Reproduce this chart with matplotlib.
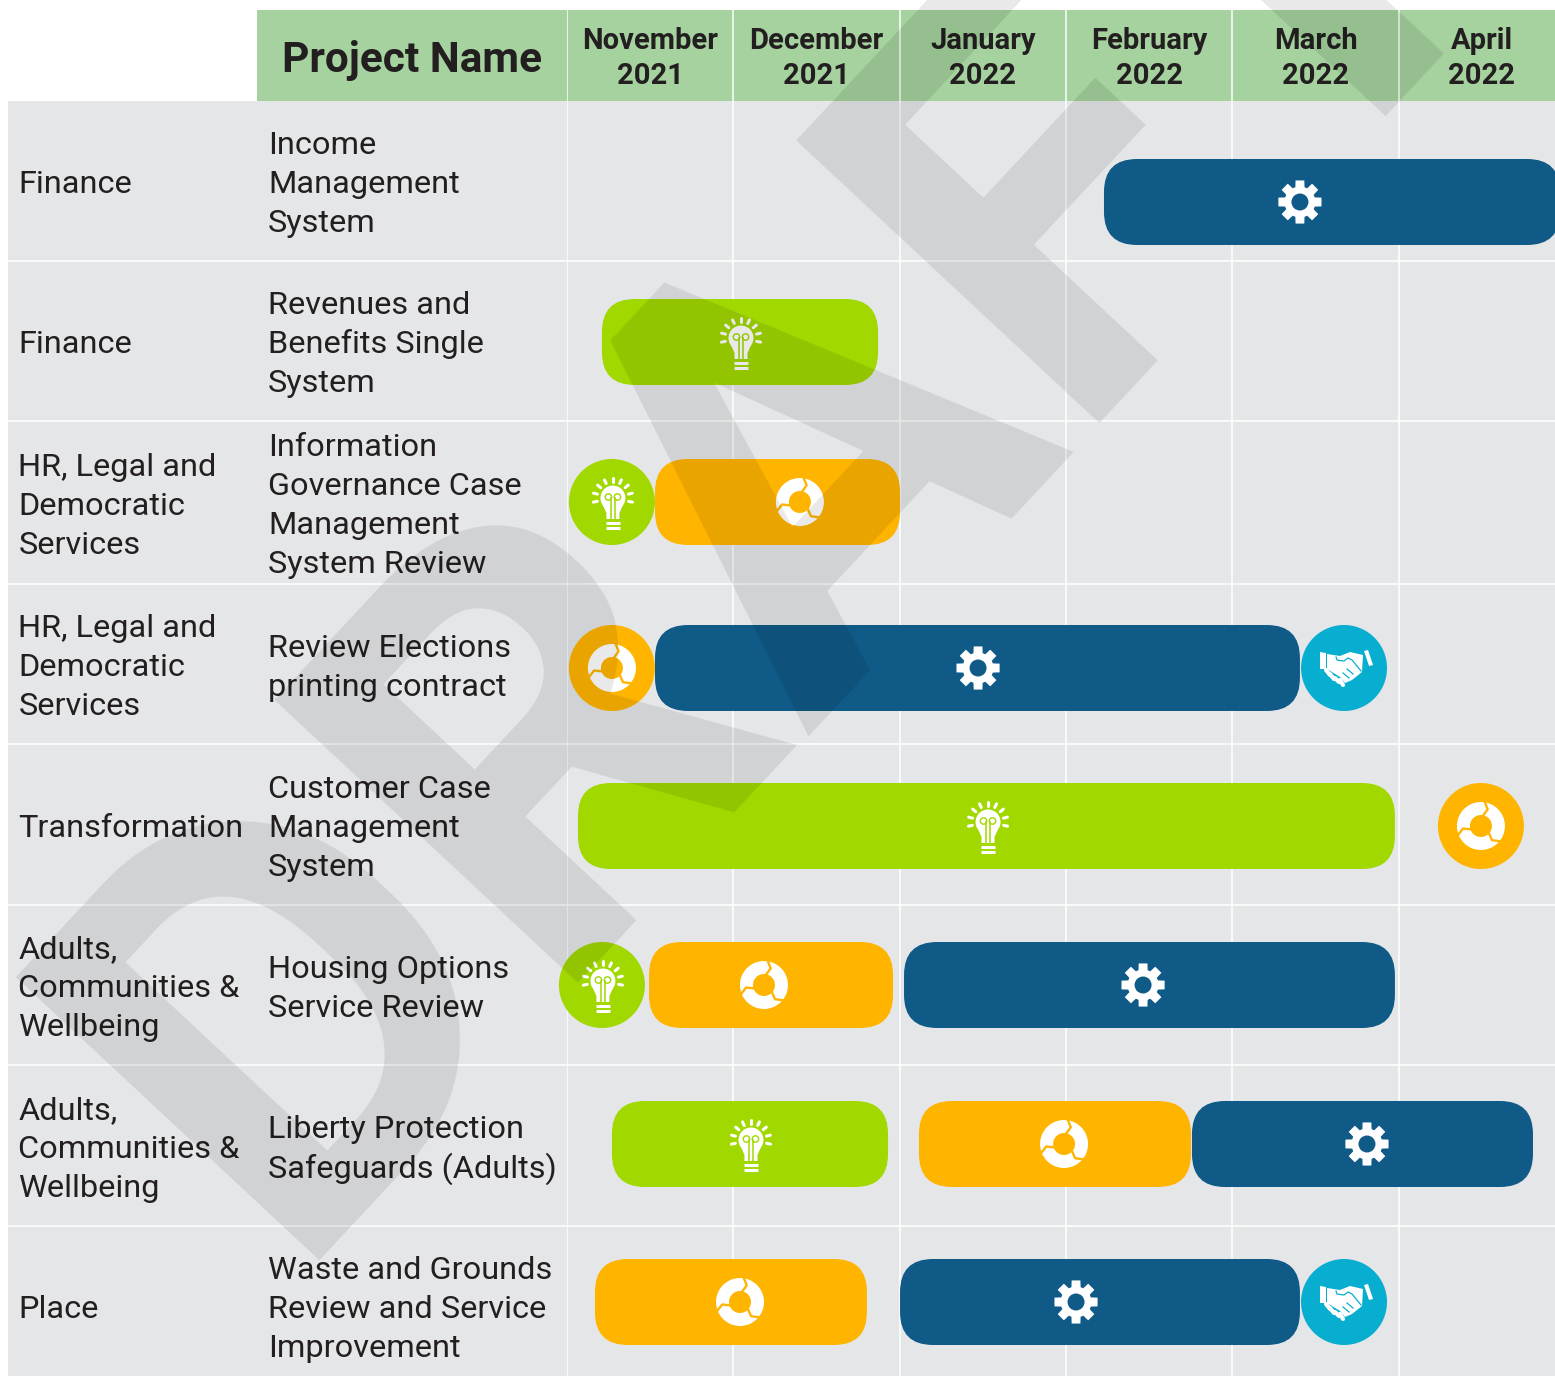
#!/usr/bin/env python3
import numpy as np
import matplotlib
matplotlib.use("Agg")
import matplotlib.pyplot as plt
from matplotlib.patches import Rectangle, FancyBboxPatch, Ellipse, Circle, Polygon, Wedge
from matplotlib.transforms import Affine2D

plt.rcParams["font.family"] = ["Roboto", "DejaVu Sans"]

months = ["November\n2021", "December\n2021", "January\n2022", "February\n2022", "March\n2022", "April\n2022"]
categories = ["Finance", "Finance", "HR, Legal and\nDemocratic\nServices", "HR, Legal and\nDemocratic\nServices",
              "Transformation", "Adults,\nCommunities &\nWellbeing", "Adults,\nCommunities &\nWellbeing", "Place"]
projects = ["Income\nManagement\nSystem", "Revenues and\nBenefits Single\nSystem",
            "Information\nGovernance Case\nManagement\nSystem Review", "Review Elections\nprinting contract",
            "Customer Case\nManagement\nSystem", "Housing Options\nService Review",
            "Liberty Protection\nSafeguards (Adults)", "Waste and Grounds\nReview and Service\nImprovement"]
row_edges = [101, 261, 421, 584, 744, 905, 1065, 1226, 1386]
row_centers = [202, 342, 502, 668, 826, 985, 1144, 1302]

# bars, x values in months from the start of November 2021
bar_rows = [0, 1, 2, 3, 4, 5, 5, 6, 6, 6, 7, 7]
bar_starts = [3.228, 0.21, 0.529, 0.529, 0.066, 0.493, 2.026, 0.27, 2.116, 3.757, 0.168, 2.002]
bar_ends = [5.97, 1.87, 2.002, 4.406, 4.977, 1.96, 4.977, 1.93, 3.751, 5.807, 1.803, 4.406]
bar_icons = [4.406, 1.04, 1.40, 2.471, 2.525, 1.184, 3.463, 1.10, 2.988, 4.809, 1.04, 3.06]
bar_kinds = ["build", "idea", "review", "build", "idea", "review", "build", "idea", "review", "build", "review", "build"]

# single-month milestones
dot_rows = [2, 3, 3, 4, 5, 7]
dot_x = [0.27, 0.27, 4.671, 5.494, 0.21, 4.671]
dot_kinds = ["idea", "review", "deal", "review", "idea", "deal"]

colors = {"idea": "#a0d800", "review": "#ffb400", "build": "#105a88", "deal": "#07aed0"}
BG = "#e5e6e8"
HEADER = "#a5d29e"
INK = "#231f20"
MONTH_PX = 166.35
BAR_H = 86


def draw_gear(ax, tr, bg):
    n = 8
    pts = []
    for i in range(n):
        a = 2 * np.pi * i / n
        for da, r in [(-0.30, 15.5), (-0.2, 22), (0.2, 22), (0.30, 15.5)]:
            pts.append((r * np.cos(a + da), r * np.sin(a + da)))
    ax.add_patch(Polygon(pts, fc="white", ec="none", transform=tr, zorder=6))
    ax.add_patch(Circle((0, 0), 8.5, fc=bg, ec="none", transform=tr, zorder=7))


def draw_bulb(ax, tr, bg):
    neck = [(-10, -3), (-6.5, -11), (-6.5, -17), (6.5, -17), (6.5, -11), (10, -3)]
    ax.add_patch(Circle((1, 4), 12.5, fc="white", ec="none", transform=tr, zorder=6))
    ax.add_patch(Polygon([(x + 1, y) for x, y in neck], fc="white", ec="none", transform=tr, zorder=6))
    for a in np.radians([-12, 14, 40, 65, 90, 115, 140, 166, 192]):
        ax.plot([1 + 16 * np.cos(a), 1 + 20 * np.cos(a)], [4 + 16 * np.sin(a), 4 + 20 * np.sin(a)],
                color="white", lw=2.2, transform=tr, zorder=6, solid_capstyle="round")
    for sign in (-1, 1):
        ax.add_patch(Circle((1 + sign * 4.5, 5), 3.2, fc="none", ec=bg, lw=1.0, transform=tr, zorder=7))
        ax.plot([1 + sign * 2.2, 1 + sign * 2.2], [4, -17], color=bg, lw=1.1, transform=tr, zorder=7)
    for y0 in (-21, -25.5):
        ax.plot([-6, 8], [y0, y0], color="white", lw=2.2, transform=tr, zorder=6, solid_capstyle="butt")


def draw_cycle(ax, tr, bg):
    ax.add_patch(Wedge((0, 0), 24, 0, 360, width=13, fc="white", ec="none", transform=tr, zorder=6))
    for a0 in (68, 188, 308):
        rs = np.array([10, 18, 25])
        ang = np.radians(np.array([a0 + 12, a0, a0 + 14]))
        ax.plot(rs * np.cos(ang), rs * np.sin(ang), color=bg, lw=1.7, transform=tr, zorder=7)


def draw_deal(ax, tr, bg):
    hands = [(-17, 14), (-4, 12), (6, 16), (19, 13), (18, -4), (8, -12), (1, -15), (-4, -9), (-17, -1)]
    ax.add_patch(Polygon(hands, fc="white", ec="none", transform=tr, zorder=6))
    ax.add_patch(Polygon([(-24, 16), (-18, 15), (-18, -1), (-24, -1)], fc="white", ec="none", transform=tr, zorder=6))
    ax.add_patch(Polygon([(20, 17), (24, 18), (29, 3), (25, 2)], fc="white", ec="none", transform=tr, zorder=6))
    for x0, y0, x1, y1 in [(-18, -2, -14, -7), (-14, -6, -10, -11), (-9, -10, -5, -14), (-4, -12, -1, -17)]:
        ax.plot([x0, x1], [y0, y1], color="white", lw=3, transform=tr, zorder=6, solid_capstyle="round")
    ax.plot([-8, -7, 0, 4, 8, 17], [11, 8, 7, 10, 8, -3], color=bg, lw=0.9, transform=tr, zorder=7)
    for x0, y0, x1, y1 in [(3, -1, 9, -6), (-1, -5, 5, -10)]:
        ax.plot([x0, x1], [y0, y1], color=bg, lw=0.9, transform=tr, zorder=7)


icon_funcs = {"build": draw_gear, "idea": draw_bulb, "review": draw_cycle, "deal": draw_deal}


def add_icon(gantt, x, y, kind):
    px = gantt.transData.transform((x, y))
    tr = Affine2D().translate(px[0], px[1])
    icon_funcs[kind](gantt, tr, colors[kind])


def main():
    fig = plt.figure(figsize=(15.55, 13.76), dpi=100)

    # table part, axes in pixels of the picture
    ax = fig.add_axes([0, 0, 1, 1], zorder=1)
    ax.set_xlim(0, 1555)
    ax.set_ylim(1376, 0)
    ax.axis("off")
    ax.add_patch(Rectangle((8, 101), 1547, 1285, fc=BG, ec="none"))
    ax.add_patch(Rectangle((257, 10), 1298, 91, fc=HEADER, ec="none"))
    ax.hlines(row_edges[1:-1], 8, 1555, color="white", lw=1.1, zorder=2)
    ax.text(412, 72, "Project Name", fontsize=30.5, fontweight="bold", color=INK, ha="center", va="baseline", zorder=3)

    for i in range(8):
        mid = (row_edges[i] + row_edges[i + 1]) / 2
        for x0, txt in [(18.5, categories[i]), (268, projects[i])]:
            lines = txt.split("\n")
            for k, line in enumerate(lines):
                y = mid + 12.3 + (k - (len(lines) - 1) / 2) * 39
                ax.text(x0, y, line, fontsize=23.4, color=INK, ha="left", va="baseline", zorder=3)

    # gantt part, x in months, y still in pixels
    gantt = fig.add_axes([567 / 1555, 0, (1555 - 567) / 1555, 1], zorder=2)
    gantt.set_xlim(0, (1555 - 567) / MONTH_PX)
    gantt.set_ylim(1376, 0)
    gantt.axis("off")
    gantt.vlines(range(6), 10, 1376, color="white", lw=1.1, zorder=1)
    for m, label in enumerate(months):
        l1, l2 = label.split("\n")
        gantt.text(m + 0.5, 49, l1, fontsize=21, fontweight="bold", color=INK, ha="center", va="baseline", zorder=3)
        gantt.text(m + 0.5, 83.5, l2, fontsize=21, fontweight="bold", color=INK, ha="center", va="baseline", zorder=3)

    for row, start, end, icon, kind in zip(bar_rows, bar_starts, bar_ends, bar_icons, bar_kinds):
        y = row_centers[row]
        box = FancyBboxPatch((start, y - BAR_H / 2), end - start, BAR_H,
                             boxstyle=f"round,pad=0,rounding_size={33 / MONTH_PX}",
                             mutation_aspect=MONTH_PX, fc=colors[kind], ec="none", zorder=4)
        gantt.add_patch(box)
        add_icon(gantt, icon, y, kind)

    for row, x, kind in zip(dot_rows, dot_x, dot_kinds):
        y = row_centers[row]
        gantt.add_patch(Ellipse((x, y), BAR_H / MONTH_PX, BAR_H, fc=colors[kind], ec="none", zorder=5, clip_on=False))
        add_icon(gantt, x, y, kind)

    # watermark over everything
    fig.text(283 / 1555, 1 - 1260 / 1376, "DRAFT", fontsize=420, fontweight="bold", color="black", alpha=0.09,
             rotation=47, rotation_mode="anchor", ha="left", va="baseline", zorder=10)

    fig.savefig("out.png", dpi=100)


if __name__ == "__main__":
    main()
